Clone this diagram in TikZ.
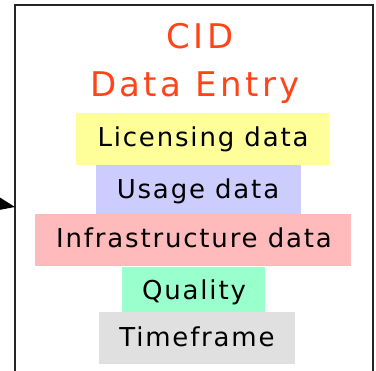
\documentclass[tikz,border=0pt]{standalone}
\usepackage{fontspec}
\setmainfont{DejaVu Sans}
\newfontfamily\ttlfont[LetterSpace=10]{DejaVu Sans}
\newfontfamily\bandfont[LetterSpace=7]{DejaVu Sans}
\usetikzlibrary{arrows.meta}
\definecolor{cidred}{HTML}{FF4419}
\definecolor{cyellow}{HTML}{FFFF99}
\definecolor{cblue}{HTML}{CCCCFF}
\definecolor{cpink}{HTML}{FFBBBB}
\definecolor{cgreen}{HTML}{99FFCC}
\definecolor{cgray}{HTML}{E0E0E0}
\begin{document}
\begin{tikzpicture}[x=1pt,y=-1pt,
  band/.style={inner sep=0pt,anchor=base,font=\bandfont\fontsize{26}{26}\selectfont},
  ttl/.style={text=cidred,font=\ttlfont\fontsize{34}{34}\selectfont,inner sep=0pt,anchor=base}]
\useasboundingbox (0,0) rectangle (376,371);
\draw[line width=1.6pt,black!85] (15,380) -- (15,5) -- (373,5) -- (373,380);
\coordinate (edge) at (15,207);
\coordinate (src) at (-6,203);
\draw[-{Triangle[length=17pt,width=13pt]},line width=1pt] (src) -- (edge);
\node[ttl] (cid) at (200,49) {CID};
\node[ttl] (de) at (195,97) {Data Entry};
\fill[cyellow] (76,113) rectangle (329,165);
\fill[cblue] (96,165) rectangle (301,214);
\fill[cpink] (35,214) rectangle (351,266);
\fill[cgreen] (122,267) rectangle (265,312);
\fill[cgray] (99,312) rectangle (295,364);
\node[band] (lic) at (203,147) {Licensing data};
\node[band] (use) at (198,199) {Usage data};
\node[band] (inf) at (194,248) {Infrastructure data};
\node[band] (qua) at (194,300) {Quality};
\node[band] (tim) at (197,347) {Timeframe};
\end{tikzpicture}
\end{document}
